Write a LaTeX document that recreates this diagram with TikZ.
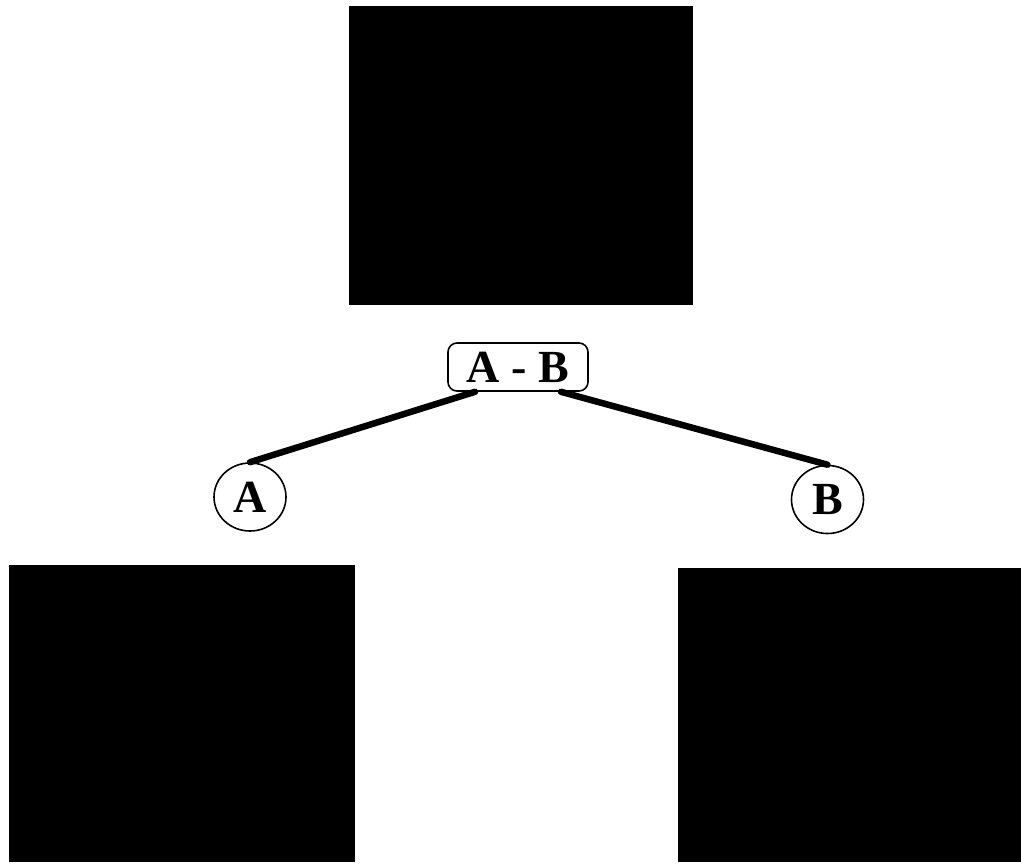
\documentclass[tikz,border=0pt]{standalone}
\usepackage{fontspec}
\setmainfont{Liberation Serif}
\usetikzlibrary{shapes.geometric}
\begin{document}
\begin{tikzpicture}[x=1pt,y=-1pt,
  panel/.style={fill=black,draw=none,inner sep=0pt},
  tag/.style={draw=black,line width=1.6pt,fill=white,inner sep=0pt,
    font=\fontsize{46}{54}\selectfont\bfseries},
  pair/.style={tag,rounded corners=9pt,minimum width=140pt,minimum height=48pt},
  leaf/.style={tag,ellipse,minimum width=72pt,minimum height=68pt},
  link/.style={line width=6.5pt,line cap=round}]
\useasboundingbox (0,0) rectangle (1021,868);
% image panels
\node[panel,minimum width=344pt,minimum height=299pt] (top) at (521,155.5) {};
\node[panel,minimum width=346pt,minimum height=297pt] (left) at (182,713.5) {};
\node[panel,minimum width=343pt,minimum height=294pt] (right) at (849.5,715) {};
% tree
\node[pair] (ab) at (518,367) {A - B};
\node[leaf] (a) at (250,497) {A};
\node[leaf] (b) at (827.5,499.5) {B};
\draw[link] (ab.210) -- (a.north);
\draw[link] (ab.330) -- (b.north);
\end{tikzpicture}
\end{document}
